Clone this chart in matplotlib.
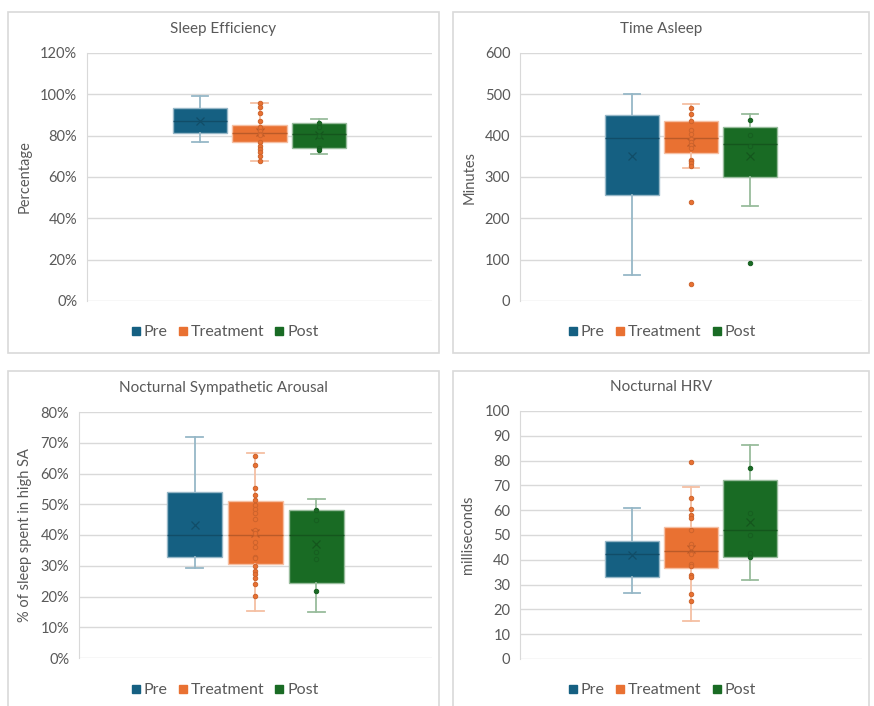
import matplotlib
matplotlib.use("Agg")
import matplotlib.pyplot as plt
from matplotlib.patches import Rectangle
from matplotlib.lines import Line2D
from matplotlib.ticker import FuncFormatter, MultipleLocator
import numpy as np

plt.rcParams['font.family'] = ['Lato', 'DejaVu Sans']

# ---------------- data ----------------
groups = ["Pre", "Treatment", "Post"]
colors = ["#156082", "#E97132", "#196B24"]

# Sleep Efficiency (%)
se_low = [77, 67.6, 71]
se_q1 = [81.3, 77.1, 74.2]
se_med = [87.2, 81.1, 80.8]
se_q3 = [93.3, 85.4, 86.2]
se_high = [99.2, 96, 88]
se_mean = [87.2, 82.0, 80.3]
se_pts = [[], [96, 94, 91, 87, 84, 82.5, 81, 80.5, 77, 75, 73.5, 72, 70, 67.6],
          [86, 84, 80, 74, 73.2]]

# Time Asleep (minutes)
ta_low = [62, 322, 229]
ta_q1 = [257, 359, 300]
ta_med = [395, 395, 381]
ta_q3 = [450, 435, 420]
ta_high = [501, 476, 452]
ta_mean = [351, 385, 350]
ta_pts = [[], [468, 452, 435, 413, 405, 393, 385, 377, 369, 342, 338, 333, 326, 240, 42],
          [438, 402, 375, 91]]

# Nocturnal Sympathetic Arousal (%)
sa_low = [29.4, 15.4, 15.1]
sa_q1 = [32.7, 30.6, 24.4]
sa_med = [40.0, 40.0, 40.0]
sa_q3 = [53.9, 51.0, 48.0]
sa_high = [71.9, 66.7, 51.6]
sa_mean = [43.2, 40.8, 37.1]
sa_pts = [[], [65.6, 62.9, 55.3, 53.0, 51.3, 49.7, 48.6, 47.0, 45.1, 41.6, 40.5, 37.8, 36.2,
               33.0, 32.5, 30.0, 28.4, 27.3, 26.0, 24.2, 20.1],
          [48.0, 44.9, 34.6, 32.1, 21.8]]

# Nocturnal HRV (ms)
hrv_low = [26.6, 15.5, 32.0]
hrv_q1 = [32.9, 36.6, 41.3]
hrv_med = [42.5, 43.5, 52.2]
hrv_q3 = [47.6, 53.1, 72.3]
hrv_high = [60.8, 69.2, 86.3]
hrv_mean = [42.0, 44.5, 55.1]
hrv_pts = [[], [79.3, 65, 60.3, 58.1, 56.7, 52, 46.4, 45, 42.2, 38.3, 37.5, 33.9, 32.9, 26.2, 23.5],
           [76.9, 58.9, 50, 42.6, 41.3]]

TEXT = "#595959"
GRID = "#D9D9D9"
W, H = 874, 706

def mix(c, other, t):
    c = np.array(matplotlib.colors.to_rgb(c))
    o = np.array(matplotlib.colors.to_rgb(other))
    return tuple(c * (1 - t) + o * t)

fig = plt.figure(figsize=(W / 100, H / 100), dpi=100)

def frame(x0, y0, x1, y1):
    fig.patches.append(Rectangle((x0 / W, 1 - y1 / H), (x1 - x0) / W, (y1 - y0) / H,
                                 transform=fig.transFigure, fill=False, ec=GRID, lw=1.2))

def make_panel(rect, frame_rect, title, ylabel, ylabel_x, low, q1, med, q3, high, mean, pts,
               ymax, ystep, fmt, legend_y):
    l, t, r, b = rect
    frame(*frame_rect)
    ax = fig.add_axes([l / W, 1 - b / H, (r - l) / W, (b - t) / H])
    pos = [1, 2, 3]
    for i in range(3):
        c = colors[i]
        st = dict(whislo=low[i], q1=q1[i], med=med[i], q3=q3[i], whishi=high[i],
                  mean=mean[i], fliers=[], label=groups[i])
        ax.bxp([st], positions=[pos[i]], widths=0.91, patch_artist=True, showmeans=True,
               showfliers=False,
               boxprops=dict(facecolor=c, edgecolor=mix(c, "white", 0.55), lw=1.0),
               whiskerprops=dict(color=mix(c, "white", 0.55), lw=1.3),
               capprops=dict(color=mix(c, "white", 0.55), lw=1.3),
               capwidths=0.28,
               medianprops=dict(color=mix(c, "black", 0.2), lw=1.0),
               meanprops=dict(marker="x", markeredgecolor=mix(c, "black", 0.2), markersize=5.5,
                              markeredgewidth=0.9))
        if pts[i]:
            ax.plot([pos[i]] * len(pts[i]), pts[i], ls="none", marker="o", ms=3.2,
                    mfc=c, mec=mix(c, "black", 0.12), mew=0.7, zorder=5)
    ax.set_xlim(-0.9, 4.9)
    ax.set_ylim(0, ymax)
    ax.yaxis.set_major_locator(MultipleLocator(ystep))
    ax.yaxis.set_major_formatter(FuncFormatter(fmt))
    ax.grid(axis="y", color=GRID, lw=1.0)
    ax.set_axisbelow(True)
    ax.set_xticks([])
    for s in ["top", "right", "bottom"]:
        ax.spines[s].set_visible(False)
    ax.spines["left"].set_color(GRID)
    ax.tick_params(axis="y", length=0, labelsize=10.5, labelcolor=TEXT, pad=7)
    cx = (frame_rect[0] + frame_rect[2]) / 2
    fig.text(cx / W, 1 - (t - 24) / H, title, ha="center", va="center", fontsize=11, color=TEXT)
    fig.text(ylabel_x / W, 1 - ((t + b) / 2) / H, ylabel, rotation=90, ha="center", va="center",
             fontsize=10.5, color=TEXT)
    handles = [Line2D([], [], ls="none", marker="s", ms=6, mfc=c, mec=c) for c in colors]
    fig.legend(handles, groups, loc="center", bbox_to_anchor=(cx / W, 1 - legend_y / H),
               ncol=3, frameon=False, fontsize=11.5, labelcolor=TEXT, handletextpad=0.05,
               columnspacing=0.5, handlelength=0.9, borderaxespad=0)
    return ax

pct = lambda v, p: f"{v:.0f}%"
num = lambda v, p: f"{v:.0f}"

make_panel((87, 53, 432, 301), (8, 12, 439, 353), "Sleep Efficiency", "Percentage", 25,
           se_low, se_q1, se_med, se_q3, se_high, se_mean, se_pts, 120, 20, pct, 332)
make_panel((520, 53, 862, 301), (453, 12, 869, 353), "Time Asleep", "Minutes", 470,
           ta_low, ta_q1, ta_med, ta_q3, ta_high, ta_mean, ta_pts, 600, 100, num, 332)
make_panel((79, 412, 432, 658), (8, 371, 439, 712), "Nocturnal Sympathetic Arousal",
           "% of sleep spent in high SA", 25,
           sa_low, sa_q1, sa_med, sa_q3, sa_high, sa_mean, sa_pts, 80, 10, pct, 690)
make_panel((520, 411, 862, 659), (453, 371, 869, 712), "Nocturnal HRV", "milliseconds", 468,
           hrv_low, hrv_q1, hrv_med, hrv_q3, hrv_high, hrv_mean, hrv_pts, 100, 10, num, 690)

fig.savefig("out.png", dpi=100)
